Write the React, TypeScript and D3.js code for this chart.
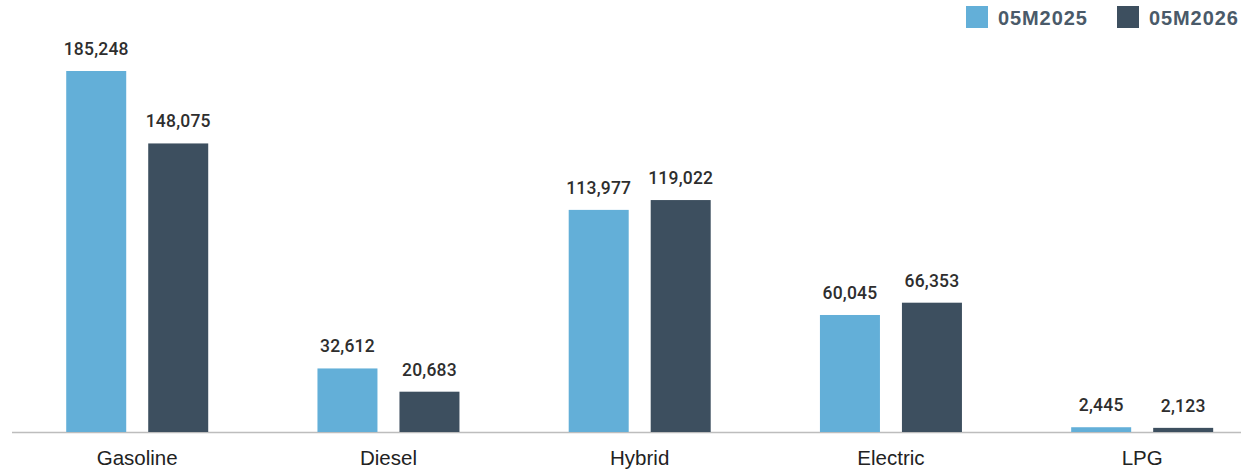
import React from "react";
import * as d3 from "d3";

const categories = ["Gasoline", "Diesel", "Hybrid", "Electric", "LPG"];
const series = ["05M2025", "05M2026"];
const values2025 = [185248, 32612, 113977, 60045, 2445];
const values2026 = [148075, 20683, 119022, 66353, 2123];
const colors = ["#63afd8", "#3d4f5f"];

const W = 1241;
const H = 471;

export default function App() {
  const baseY = 432;
  const x = d3.scaleBand<string>().domain(categories).range([11.6, 1267.8]).padding(0);
  const y = d3.scaleLinear().domain([0, 185248]).range([baseY, 71]);
  const barW = 60;
  const gap = 22;
  const fmt = d3.format(",");
  const data = [values2025, values2026];

  return (
    <svg width={W} height={H} style={{ position: "absolute", left: 0, top: 0, background: "#fff" }}>
      <line x1={12} x2={W} y1={baseY + 0.5} y2={baseY + 0.5} stroke="#bdbdbd" strokeWidth={1.5} />
      {categories.map((c, i) => {
        const cx = x(c)! + x.bandwidth() / 2;
        return (
          <g key={c}>
            {data.map((vals, s) => {
              const bx = s === 0 ? cx - gap / 2 - barW : cx + gap / 2;
              const top = y(vals[i]);
              return (
                <g key={s}>
                  <rect x={bx} y={top} width={barW} height={baseY - top} fill={colors[s]} />
                  <text
                    x={bx + barW / 2}
                    y={top - 16}
                    textAnchor="middle"
                    fontFamily="Roboto, sans-serif"
                    fontWeight={500}
                    fontSize={17.5}
                    letterSpacing={0.2}
                    fill="#2e2e2e"
                  >
                    {fmt(vals[i])}
                  </text>
                </g>
              );
            })}
            <text
              x={cx}
              y={465}
              textAnchor="middle"
              fontFamily="'Liberation Sans', Arial, sans-serif"
              fontSize={20.5}
              fill="#222"
            >
              {c}
            </text>
          </g>
        );
      })}
      {series.map((s, k) => {
        const lx = k === 0 ? 966 : 1117;
        return (
          <g key={s}>
            <rect x={lx} y={6} width={22} height={22} fill={colors[k]} />
            <text
              x={lx + 32}
              y={25}
              fontFamily="'Liberation Sans', Arial, sans-serif"
              fontWeight={700}
              fontSize={20}
              letterSpacing={0.9}
              fill="#4a5a69"
            >
              {s}
            </text>
          </g>
        );
      })}
    </svg>
  );
}
